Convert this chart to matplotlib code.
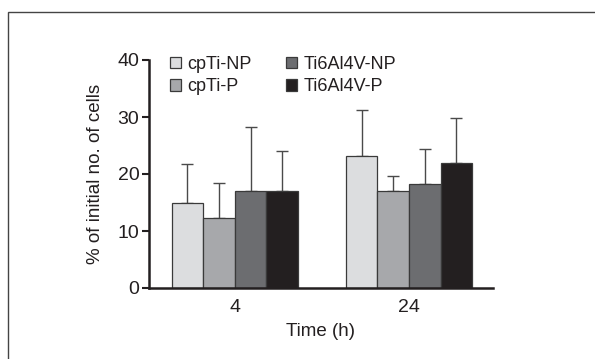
import numpy as np
import matplotlib.pyplot as plt
from matplotlib.patches import Rectangle

plt.rcParams['font.family'] = ['Liberation Sans', 'DejaVu Sans']

times = ['4', '24']
series = ['cpTi-NP', 'cpTi-P', 'Ti6Al4V-NP', 'Ti6Al4V-P']
means = {
    'cpTi-NP': [15.0, 23.1],
    'cpTi-P': [12.3, 17.0],
    'Ti6Al4V-NP': [17.1, 18.2],
    'Ti6Al4V-P': [17.1, 22.0],
}
upper = {
    'cpTi-NP': [21.8, 31.3],
    'cpTi-P': [18.5, 19.7],
    'Ti6Al4V-NP': [28.2, 24.4],
    'Ti6Al4V-P': [24.0, 29.8],
}
colors = ['#dcdddf', '#a7a8ab', '#6c6d70', '#231f20']
ink = '#231f20'

fig = plt.figure(figsize=(5.95, 3.59), dpi=100)
fig.patches.append(Rectangle((8 / 595, -0.1), 1.2, 1.1 - 12 / 359,
                             transform=fig.transFigure, fill=False,
                             edgecolor='#444444', lw=1.0))
ax = fig.add_axes([149 / 595, 1 - 288 / 359, 344 / 595, 228 / 359])

x = np.arange(len(times))
w = 0.181
for i, s in enumerate(series):
    pos = x + (i - 1.5) * w
    m = np.array(means[s])
    err = np.array(upper[s]) - m
    ax.bar(pos, m, width=w, color=colors[i], edgecolor='#3a3a3a', lw=0.9,
           label=s, zorder=2)
    ax.errorbar(pos, m, yerr=[np.zeros_like(err), err], fmt='none',
                ecolor='#4a4a4a', elinewidth=1.0, capsize=4.5, capthick=1.0,
                zorder=1)

ax.set_xlim(-0.492, 1.482)
ax.set_ylim(0, 40)
ax.set_yticks([0, 10, 20, 30, 40])
ax.set_xticks(x)
ax.set_xticklabels(times)
ax.spines['top'].set_visible(False)
ax.spines['right'].set_visible(False)
ax.spines['left'].set_linewidth(1.8)
ax.spines['bottom'].set_linewidth(1.8)
ax.spines['left'].set_color(ink)
ax.spines['bottom'].set_color(ink)
ax.tick_params(axis='y', length=5, width=1.5, color=ink, labelsize=14,
               labelcolor=ink, pad=2)
ax.tick_params(axis='x', length=0, labelsize=14, labelcolor=ink, pad=8)
ax.set_xlabel('Time (h)', fontsize=13.5, color=ink, labelpad=5)
ax.set_ylabel('% of initial no. of cells', fontsize=13.5, color=ink, labelpad=10)

ax.legend(ncol=2, loc='upper left', bbox_to_anchor=(0.015, 1.09), frameon=False,
          fontsize=13, handlelength=0.6, handleheight=0.6, handletextpad=0.35,
          columnspacing=1.9, labelspacing=0.3, labelcolor=ink)

fig.savefig('out.png', dpi=100)
